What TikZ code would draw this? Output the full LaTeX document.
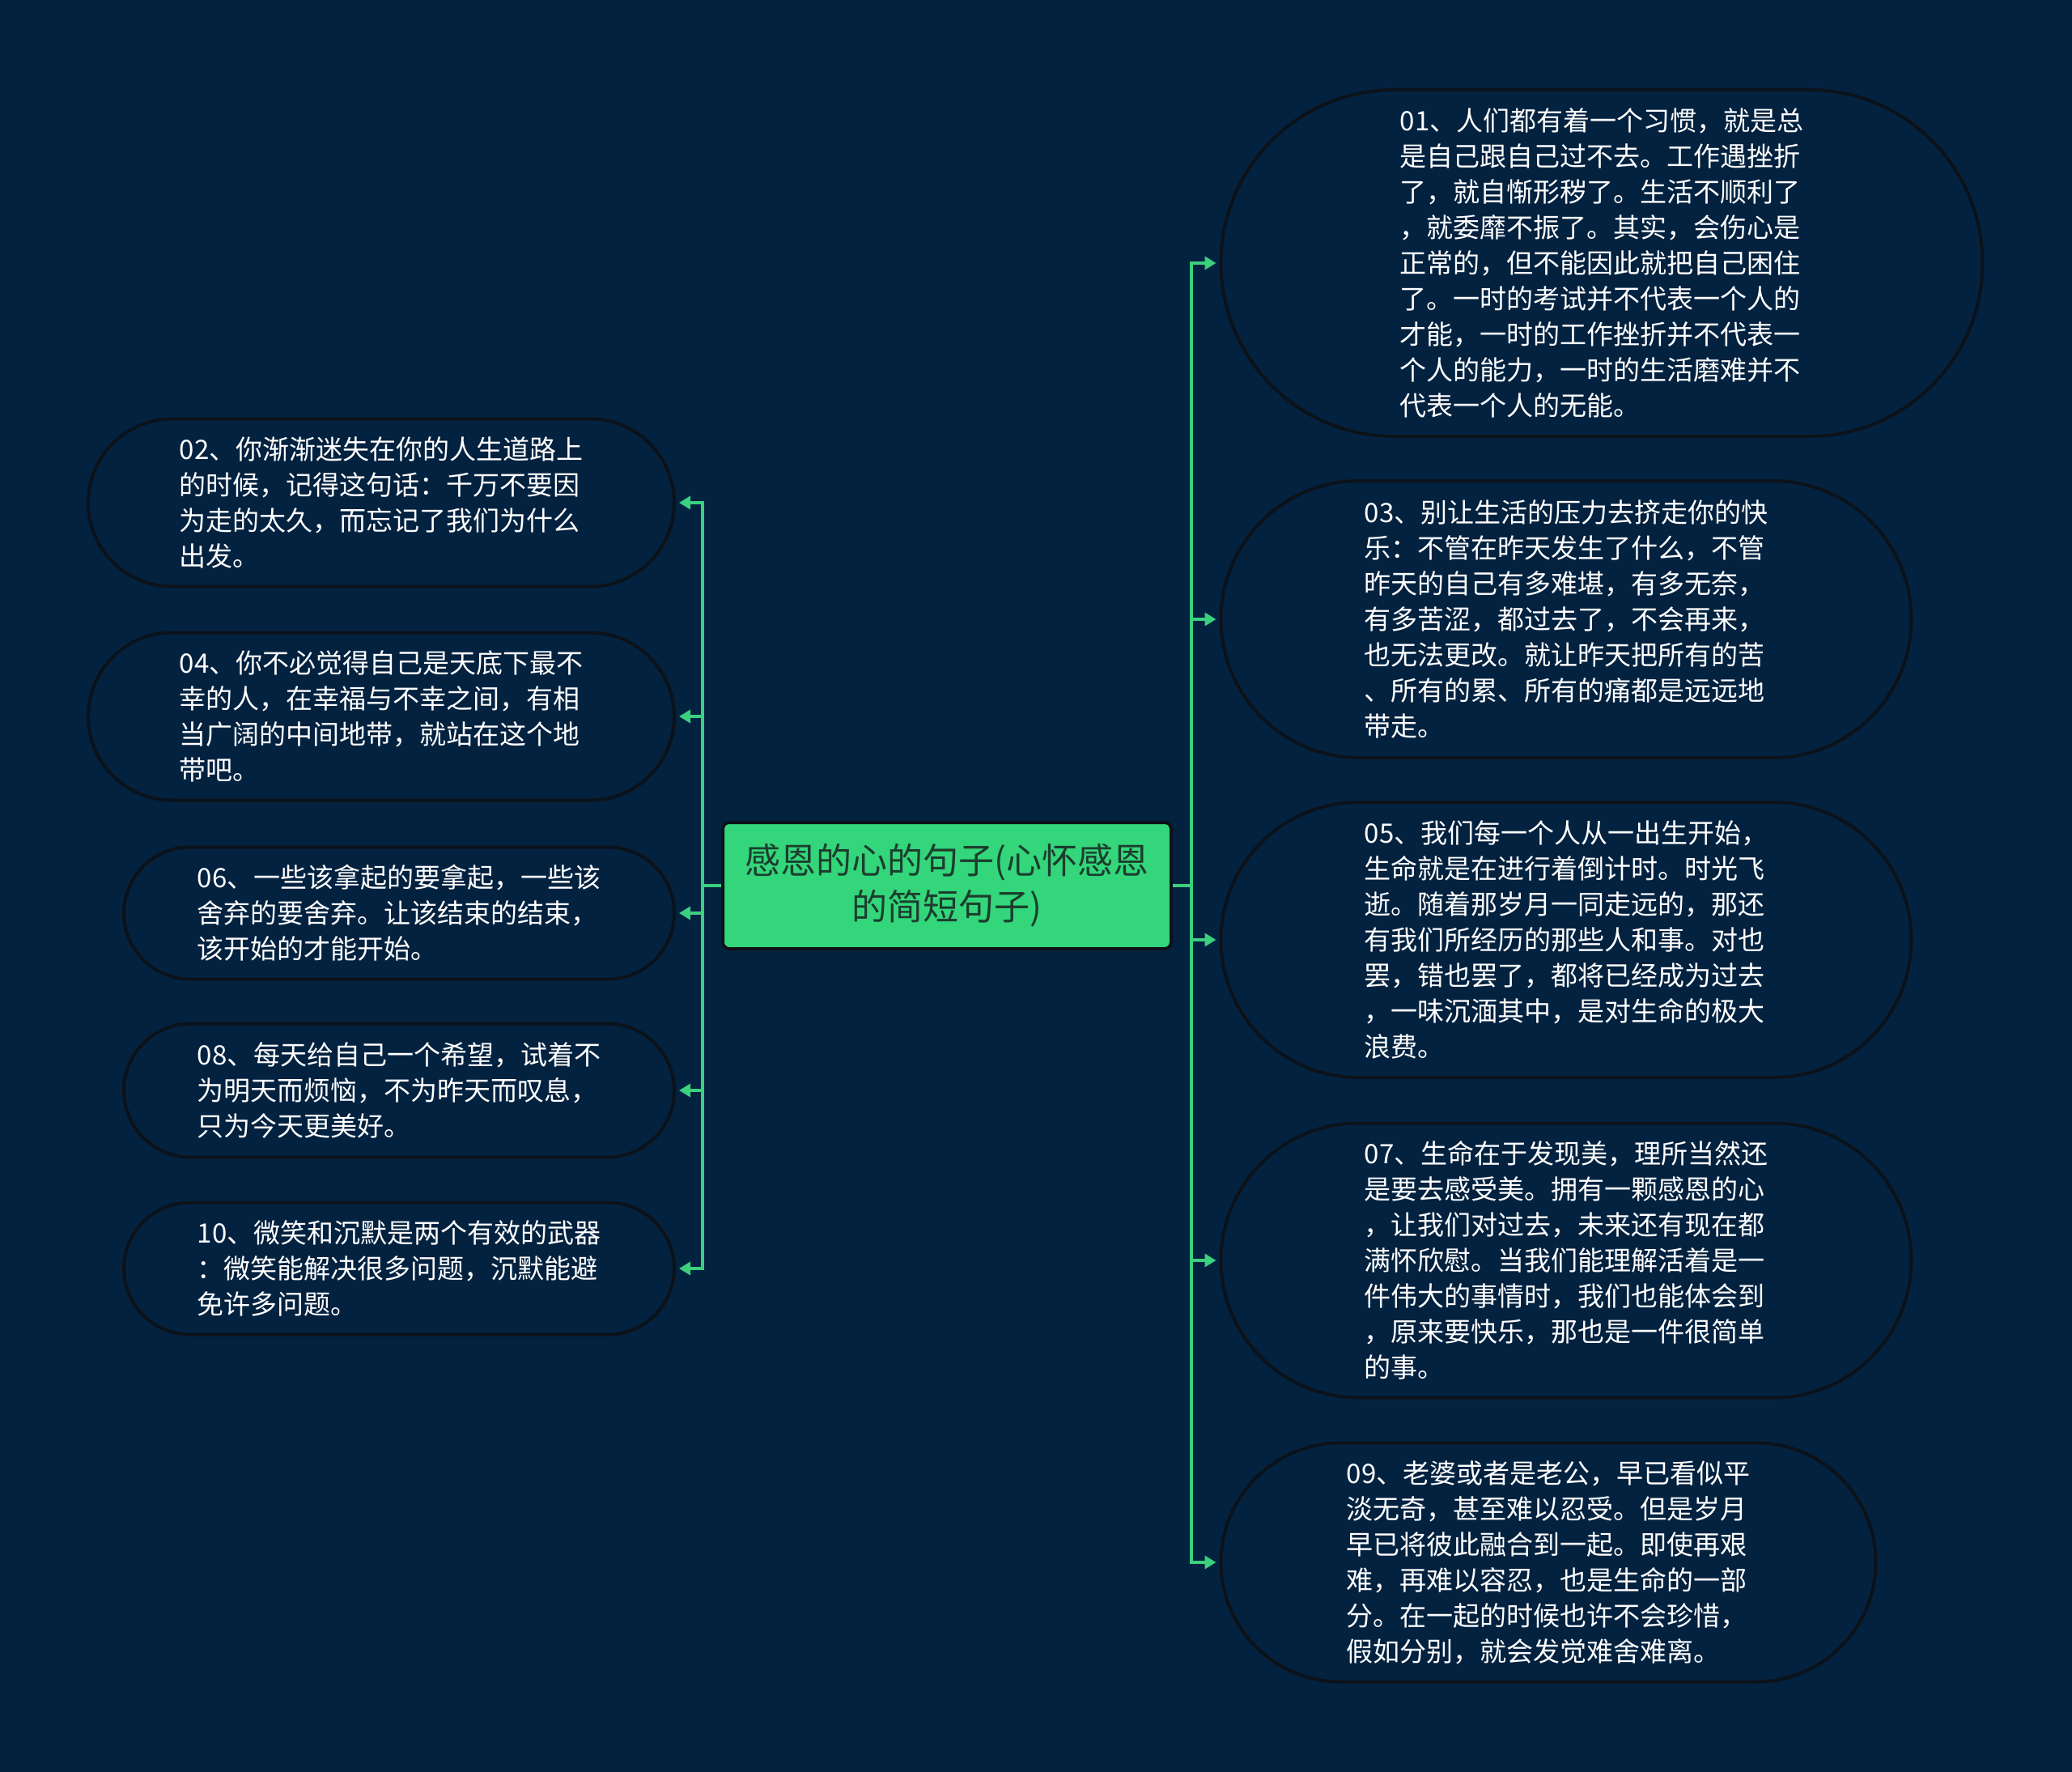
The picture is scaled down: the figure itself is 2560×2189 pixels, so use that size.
\documentclass[tikz,border=0pt]{standalone}
\usepackage{fontspec}
\newfontfamily\cjk{Noto Sans CJK SC}
\usetikzlibrary{shapes.misc,arrows.meta}
\definecolor{bg}{HTML}{032240}
\definecolor{edgegreen}{HTML}{3AD07E}
\definecolor{rootfill}{HTML}{33D67A}
\definecolor{roottext}{HTML}{1C3D2E}
\definecolor{border}{HTML}{0B1219}
\begin{document}
\begin{tikzpicture}[x=1pt,y=-1pt,
  leaf/.style={rounded rectangle, draw=border, line width=4pt, fill=bg, text=white,
    align=left, font=\cjk\fontsize{33}{44}\selectfont, inner sep=0pt},
  root/.style={rectangle, rounded corners=8pt, draw=border, line width=4pt, fill=rootfill,
    text=roottext, align=center, font=\cjk\fontsize{44}{57}\selectfont,
    minimum width=554pt, minimum height=156pt, inner sep=0pt},
  link/.style={draw=edgegreen, line width=4pt, shorten >=4pt,
    -{Triangle[length=14pt,width=16pt]}}
]
\fill[bg] (0,0) rectangle (2560,2189);
\useasboundingbox (0,0) rectangle (2560,2189);

\node[root] (root) at (1170,1094) {感恩的心的句子(心怀感恩\\的简短句子)};

\node[leaf, minimum width=941pt, minimum height=428pt] (n01) at (1979,325)
 {01、人们都有着一个习惯，就是总\\是自己跟自己过不去。工作遇挫折\\了，就自惭形秽了。生活不顺利了\\，就委靡不振了。其实，会伤心是\\正常的，但不能因此就把自己困住\\了。一时的考试并不代表一个人的\\才能，一时的工作挫折并不代表一\\个人的能力，一时的生活磨难并不\\代表一个人的无能。};
\node[leaf, minimum width=853pt, minimum height=342pt] (n03) at (1935,765)
 {03、别让生活的压力去挤走你的快\\乐：不管在昨天发生了什么，不管\\昨天的自己有多难堪，有多无奈，\\有多苦涩，都过去了，不会再来，\\也无法更改。就让昨天把所有的苦\\、所有的累、所有的痛都是远远地\\带走。};
\node[leaf, minimum width=853pt, minimum height=340pt] (n05) at (1935,1161)
 {05、我们每一个人从一出生开始，\\生命就是在进行着倒计时。时光飞\\逝。随着那岁月一同走远的，那还\\有我们所经历的那些人和事。对也\\罢，错也罢了，都将已经成为过去\\，一味沉湎其中，是对生命的极大\\浪费。};
\node[leaf, minimum width=853pt, minimum height=339pt] (n07) at (1935,1557)
 {07、生命在于发现美，理所当然还\\是要去感受美。拥有一颗感恩的心\\，让我们对过去，未来还有现在都\\满怀欣慰。当我们能理解活着是一\\件伟大的事情时，我们也能体会到\\，原来要快乐，那也是一件很简单\\的事。};
\node[leaf, minimum width=809pt, minimum height=295pt] (n09) at (1913,1930)
 {09、老婆或者是老公，早已看似平\\淡无奇，甚至难以忍受。但是岁月\\早已将彼此融合到一起。即使再艰\\难，再难以容忍，也是生命的一部\\分。在一起的时候也许不会珍惜，\\假如分别，就会发觉难舍难离。};

\node[leaf, minimum width=724pt, minimum height=207pt] (n02) at (471,621)
 {02、你渐渐迷失在你的人生道路上\\的时候，记得这句话：千万不要因\\为走的太久，而忘记了我们为什么\\出发。};
\node[leaf, minimum width=724pt, minimum height=207pt] (n04) at (471,885)
 {04、你不必觉得自己是天底下最不\\幸的人，在幸福与不幸之间，有相\\当广阔的中间地带，就站在这个地\\带吧。};
\node[leaf, minimum width=680pt, minimum height=163pt] (n06) at (493,1128)
 {06、一些该拿起的要拿起，一些该\\舍弃的要舍弃。让该结束的结束，\\该开始的才能开始。};
\node[leaf, minimum width=680pt, minimum height=165pt] (n08) at (493,1347)
 {08、每天给自己一个希望，试着不\\为明天而烦恼，不为昨天而叹息，\\只为今天更美好。};
\node[leaf, minimum width=680pt, minimum height=163pt] (n10) at (493,1567)
 {10、微笑和沉默是两个有效的武器\\：微笑能解决很多问题，沉默能避\\免许多问题。};

\foreach \n in {n01,n03,n05,n07,n09}
  \draw[link] (root.east) -- ++(23,0) |- (\n.west);
\foreach \n in {n02,n04,n06,n08,n10}
  \draw[link] (root.west) -- ++(-23,0) |- (\n.east);
\end{tikzpicture}
\end{document}
